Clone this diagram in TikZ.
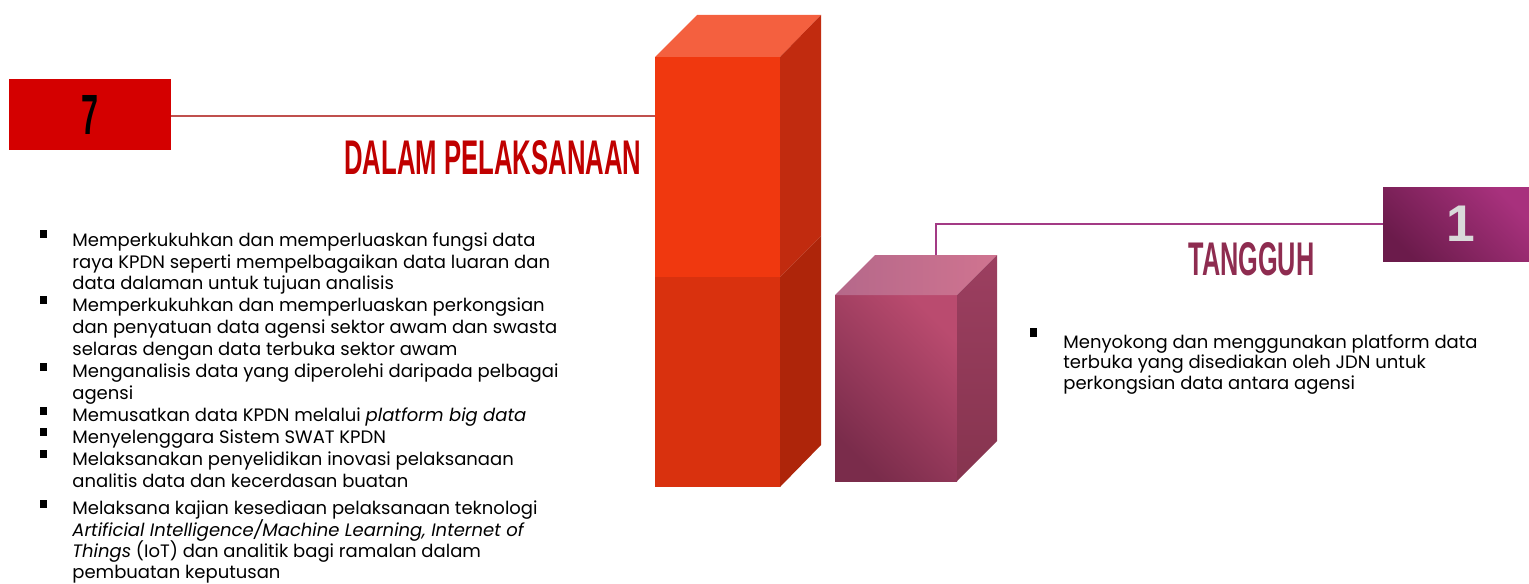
\documentclass[tikz,border=0pt]{standalone}
\usepackage{fontspec}
\setmainfont{Poppins}
\setsansfont{Liberation Sans}
\usetikzlibrary{positioning}
\definecolor{sevenred}{HTML}{D40000}
\definecolor{titlered}{HTML}{C00000}
\definecolor{redline}{HTML}{C0504D}
\definecolor{barup}{HTML}{F0380F}
\definecolor{barlow}{HTML}{D9310E}
\definecolor{bartop}{HTML}{F4603F}
\definecolor{barsideup}{HTML}{C12B0F}
\definecolor{barsidelow}{HTML}{AE250A}
\definecolor{pinkdark}{HTML}{7A2C4B}
\definecolor{pinklight}{HTML}{BA4B6F}
\definecolor{pinktopA}{HTML}{B5688A}
\definecolor{pinktopB}{HTML}{D07490}
\definecolor{pinksideA}{HTML}{9C3F60}
\definecolor{pinksideB}{HTML}{86344F}
\definecolor{pinkline}{HTML}{A33A85}
\definecolor{onedark}{HTML}{6B1B4B}
\definecolor{onelight}{HTML}{A8317D}
\definecolor{tangguh}{HTML}{8E2C50}
\tikzset{
  txt/.style={anchor=base west, inner sep=0pt, font=\fontsize{9}{10}\selectfont},
  bul/.style={fill=black, minimum width=3.5pt, minimum height=4.1pt, inner sep=0pt},
}
\newcommand{\condensed}[3]{\resizebox{#1}{#2}{\bfseries\sffamily #3}}
\begin{document}
\begin{tikzpicture}[x=0.5pt,y=-0.5pt]
\useasboundingbox (0,0) rectangle (1529,583);
\fill[barup] (655,57) rectangle (780,277);
\fill[barlow] (655,277) rectangle (780,487);
\fill[bartop] (655,57) -- (697,15) -- (821,15) -- (780,57) -- cycle;
\fill[barsideup] (780,57) -- (821,15) -- (821,236) -- (780,277) -- cycle;
\fill[barsidelow] (780,277) -- (821,236) -- (821,445) -- (780,487) -- cycle;
\shade[left color=pinkdark, right color=pinklight, shading angle=135] (835,295) rectangle (957,481);
\shade[left color=pinktopA, right color=pinktopB] (835,295) -- (875,255) -- (997,255) -- (957,295) -- cycle;
\shade[top color=pinksideA, bottom color=pinksideB] (957,295) -- (997,255) -- (997,441) -- (957,481) -- cycle;
\node[fill=sevenred, minimum width=81pt, minimum height=35.5pt, inner sep=0pt] (seven) at (90,114.5) {\condensed{8.5pt}{19.5pt}{7}};
\coordinate (redbar) at (655,116);
\draw[redline, line width=1pt] (seven.east |- redbar) -- (redbar);
\node[anchor=south west, inner sep=0pt, text=titlered] (dalam) at (344,175) {\condensed{148.5pt}{17pt}{DALAM PELAKSANAAN}};
\node[left color=onedark, right color=onelight, shading angle=135, minimum width=73pt, minimum height=37pt, inner sep=0pt, text=black!15] (one) at (1456,224) {\hspace{5pt}\fontsize{25.8}{26}\bfseries\sffamily 1};
\coordinate (pinktop) at (936,255);
\draw[pinkline, line width=1pt] (pinktop) |- (one.west);
\node[anchor=south west, inner sep=0pt, text=tangguh] (tangguh) at (1188,276) {\condensed{63pt}{16.5pt}{TANGGUH}};
\foreach \y in {234,300,367,411,432,454,504}
   \node[bul] at (43,\y) {};
\foreach \y/\t [count=\i] in {246.5/{Memperkukuhkan dan memperluaskan fungsi data},
    268/{raya KPDN seperti mempelbagaikan data luaran dan},
    289.5/{data dalaman untuk tujuan analisis},
    311/{Memperkukuhkan dan memperluaskan perkongsian},
    333/{dan penyatuan data agensi sektor awam dan swasta},
    355/{selaras dengan data terbuka sektor awam},
    377.5/{Menganalisis data yang diperolehi daripada pelbagai},
    399.5/{agensi},
    421.5/{Memusatkan data KPDN melalui \textit{platform big data}},
    443.5/{Menyelenggara Sistem SWAT KPDN},
    465/{Melaksanakan penyelidikan inovasi pelaksanaan},
    487.5/{analitis data dan kecerdasan buatan},
    514.5/{Melaksana kajian kesediaan pelaksanaan teknologi},
    536/{\textit{Artificial Intelligence/Machine Learning, Internet of}},
    557/{\textit{Things} (IoT) dan analitik bagi ramalan dalam},
    578/{pembuatan keputusan}}
   \node[txt] (left\i) at (72,\y) {\t};
\node[bul] at (1033,332.5) {};
\foreach \y/\t [count=\i] in {348/{Menyokong dan menggunakan platform data},
    368.5/{terbuka yang disediakan oleh JDN untuk},
    389/{perkongsian data antara agensi}}
   \node[txt] (right\i) at (1063,\y) {\t};
\end{tikzpicture}
\end{document}
